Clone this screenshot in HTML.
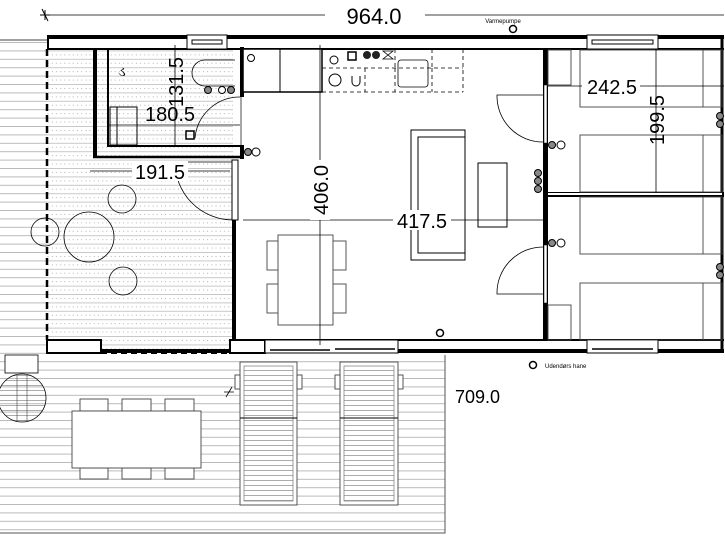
<!DOCTYPE html>
<html><head><meta charset="utf-8"><style>
html,body{margin:0;padding:0;background:#fff;width:725px;height:544px;overflow:hidden}
svg{display:block}
text{font-family:"Liberation Sans",sans-serif;fill:#000}
</style></head><body>
<svg width="725" height="544" viewBox="0 0 725 544" xmlns="http://www.w3.org/2000/svg">
<defs>
<pattern id="deck" width="10" height="8.4" patternUnits="userSpaceOnUse">
<line x1="0" y1="0.5" x2="10" y2="0.5" stroke="#aaa" stroke-width="0.8"/>
</pattern>
<pattern id="terr" width="8.4" height="8.4" patternUnits="userSpaceOnUse">
<rect width="8.4" height="8.4" fill="#fff"/>
<line x1="0" y1="0.5" x2="8.4" y2="0.5" stroke="#bbb" stroke-width="0.8"/>
<circle cx="2" cy="4.5" r="0.5" fill="#999"/><circle cx="6" cy="4.5" r="0.5" fill="#999"/>
</pattern>
<pattern id="slat" width="10" height="5" patternUnits="userSpaceOnUse">
<line x1="0" y1="0.5" x2="10" y2="0.5" stroke="#888" stroke-width="0.7"/>
</pattern>
</defs>

<rect x="0" y="40" width="47" height="315" fill="url(#deck)"/>
<line x1="0" y1="40" x2="47" y2="40" stroke="#000" stroke-width="0.8"/>
<rect x="0" y="355" width="445" height="178" fill="url(#deck)"/>
<polyline points="445,355 445,533 0,533" fill="none" stroke="#555" stroke-width="1"/>
<rect x="47" y="49" width="186" height="304" fill="url(#terr)"/>
<rect x="47" y="49" width="46" height="108" fill="url(#terr)"/>

<line x1="40" y1="15" x2="724" y2="15" stroke="#000" stroke-width="0.8"/>
<path d="M42 9 l6 12 M40 15 h10 M45 10 v10" stroke="#000" stroke-width="1"/>
<rect x="325" y="4" width="100" height="22" fill="#fff"/>
<text x="374" y="24" font-size="22" text-anchor="middle">964.0</text>
<text x="503" y="23" font-size="6" text-anchor="middle">Varmepumpe</text>
<circle cx="513" cy="29" r="3.5" fill="#fff" stroke="#000" stroke-width="1.5"/>

<rect x="47" y="35" width="677" height="4" fill="#000"/>
<line x1="47" y1="49" x2="724" y2="49" stroke="#000" stroke-width="2"/>
<line x1="48" y1="35" x2="48" y2="49" stroke="#000" stroke-width="2"/>
<rect x="47" y="349" width="677" height="4" fill="#000"/>
<line x1="233" y1="340" x2="724" y2="340" stroke="#000" stroke-width="2"/>
<rect x="47" y="340" width="54" height="13" fill="#fff" stroke="#000" stroke-width="2"/>
<rect x="230" y="340" width="35" height="13" fill="#fff" stroke="#000" stroke-width="2"/>
<line x1="722" y1="37" x2="722" y2="353" stroke="#000" stroke-width="3"/>
<path d="M101 353 H230" stroke="#000" stroke-width="2" stroke-dasharray="6,4"/>
<path d="M47 49 V340" stroke="#000" stroke-width="2.5" stroke-dasharray="7,4"/>
<rect x="187" y="35" width="40" height="14" fill="#fff" stroke="#000" stroke-width="1"/>
<rect x="192" y="40" width="30" height="4" fill="none" stroke="#000" stroke-width="1"/>
<rect x="587" y="35" width="71" height="14" fill="#fff" stroke="#000" stroke-width="1"/>
<rect x="592" y="40" width="61" height="4" fill="none" stroke="#000" stroke-width="1"/>
<rect x="265" y="340" width="133" height="13" fill="#fff" stroke="#000" stroke-width="1"/>
<line x1="270" y1="350" x2="330" y2="350" stroke="#000" stroke-width="1.5"/>
<line x1="335" y1="349" x2="395" y2="349" stroke="#000" stroke-width="1.5"/>
<rect x="587" y="340" width="71" height="13" fill="#fff" stroke="#000" stroke-width="1"/>
<line x1="592" y1="349" x2="653" y2="349" stroke="#000" stroke-width="1.5"/>

<rect x="93" y="49" width="4" height="108" fill="#000"/>
<line x1="108" y1="49" x2="108" y2="147" stroke="#000" stroke-width="2"/>
<line x1="93" y1="157" x2="244" y2="157" stroke="#000" stroke-width="2.5"/>
<line x1="108" y1="146" x2="242" y2="146" stroke="#000" stroke-width="2"/>
<rect x="240" y="47" width="4" height="50" fill="#000"/>
<rect x="240" y="145" width="4" height="14" fill="#000"/>
<line x1="241" y1="97" x2="241" y2="145" stroke="#000" stroke-width="0.7"/>
<path d="M240 97 A45 45 0 0 0 195 138" fill="none" stroke="#000" stroke-width="0.8"/>
<rect x="110" y="107" width="27" height="38" fill="none" stroke="#000" stroke-width="1"/>
<rect x="117" y="107" width="20" height="38" fill="none" stroke="#000" stroke-width="1"/>
<path d="M235 60 H205 A13 13 0 0 0 205 86 H235" fill="none" stroke="#000" stroke-width="0.8"/>
<rect x="186" y="131" width="8" height="8" fill="none" stroke="#000" stroke-width="1.5"/>
<text x="118" y="76" font-size="14">ડ</text>
<circle cx="208" cy="90" r="3.5" fill="#888" stroke="#000"/><circle cx="222" cy="90" r="3.5" fill="#fff" stroke="#000"/><circle cx="231" cy="90" r="3.5" fill="#888" stroke="#000"/>

<rect x="232" y="160" width="4" height="180" fill="#000"/>
<rect x="232" y="160" width="6" height="60" fill="#fff" stroke="#000" stroke-width="1"/>
<path d="M232 162 H175 A58 58 0 0 0 233 220" fill="none" stroke="#000" stroke-width="0.8"/>
<circle cx="248" cy="152" r="3.5" fill="#888" stroke="#000"/><circle cx="256" cy="152" r="4" fill="#fff" stroke="#000"/>

<rect x="243" y="49" width="79" height="43" fill="#fff" stroke="#000" stroke-width="1.5"/>
<line x1="280" y1="49" x2="280" y2="92" stroke="#000" stroke-width="1"/>
<circle cx="251" cy="58" r="3.5" fill="none" stroke="#000"/>
<path d="M322 68 H463 M322 92 H463 M365 68 V92 M395 68 V92 M432 68 V92 M463 49 V92 M395 49 V68 M432 49 V68" stroke="#000" stroke-width="0.8" stroke-dasharray="4,3" fill="none"/>
<rect x="398" y="60" width="30" height="27" rx="3" fill="none" stroke="#000" stroke-width="0.8"/>
<circle cx="334" cy="60" r="4" fill="none" stroke="#000"/><circle cx="335" cy="80" r="6" fill="none" stroke="#000"/>
<path d="M352 76 v6 a4 4 0 0 0 8 0 v-6" fill="none" stroke="#000"/>
<rect x="348" y="52" width="8" height="8" fill="none" stroke="#000" stroke-width="1.5"/>
<circle cx="367" cy="55" r="4" fill="#222"/><circle cx="376" cy="55" r="4" fill="#222"/>
<path d="M383 51 h10 l-10 8 h10 z" fill="none" stroke="#000" stroke-width="0.8"/>

<rect x="411" y="130" width="54" height="130" fill="none" stroke="#000" stroke-width="1"/>
<rect x="418" y="137" width="47" height="116" fill="none" stroke="#000" stroke-width="1"/>
<rect x="478" y="163" width="29" height="64" fill="none" stroke="#000" stroke-width="1"/>
<rect x="278" y="235" width="55" height="90" fill="#fff" stroke="#555" stroke-width="1"/>
<rect x="267" y="241" width="11" height="29" fill="none" stroke="#555"/><rect x="267" y="284" width="11" height="29" fill="none" stroke="#555"/>
<rect x="333" y="241" width="13" height="29" fill="none" stroke="#555"/><rect x="333" y="284" width="13" height="29" fill="none" stroke="#555"/>
<circle cx="440" cy="333" r="3.5" fill="#fff" stroke="#000" stroke-width="1.5"/>

<rect x="543" y="49" width="5" height="291" fill="#000"/>
<rect x="544" y="85" width="3" height="58" fill="#fff" stroke="#000" stroke-width="0.5"/>
<rect x="544" y="245" width="3" height="58" fill="#fff" stroke="#000" stroke-width="0.5"/>
<path d="M543 95 H497 A46 46 0 0 0 543 142" fill="none" stroke="#000" stroke-width="0.8"/>
<path d="M543 247 A46 46 0 0 0 497 294 H543" fill="none" stroke="#000" stroke-width="0.8"/>
<rect x="548" y="192" width="176" height="5" fill="#000"/>
<rect x="548" y="193" width="174" height="2" fill="#fff"/>
<circle cx="552" cy="145" r="3.5" fill="#888" stroke="#000"/><circle cx="561" cy="145" r="4" fill="#fff" stroke="#000"/>
<circle cx="552" cy="243" r="3.5" fill="#888" stroke="#000"/><circle cx="561" cy="243" r="4" fill="#fff" stroke="#000"/>
<circle cx="538" cy="173" r="3.5" fill="#888" stroke="#000"/><circle cx="538" cy="181" r="3.5" fill="#888" stroke="#000"/><circle cx="538" cy="189" r="3.5" fill="#888" stroke="#000"/>

<g fill="none" stroke="#444" stroke-width="0.9">
<rect x="580" y="50" width="142" height="57"/><rect x="580" y="135" width="142" height="57"/>
<rect x="580" y="197" width="142" height="57"/><rect x="580" y="283" width="142" height="57"/>
<path d="M703 50 V107 M703 135 V192 M703 197 V254 M703 283 V340"/>
<rect x="548" y="50" width="23" height="35"/><rect x="548" y="305" width="23" height="35"/>
</g>
<circle cx="720" cy="116" r="3.5" fill="#888" stroke="#000"/><circle cx="720" cy="124" r="3.5" fill="#888" stroke="#000"/>
<circle cx="720" cy="267" r="3.5" fill="#888" stroke="#000"/><circle cx="720" cy="275" r="3.5" fill="#888" stroke="#000"/>

<g fill="none" stroke="#000" stroke-width="0.8">
<circle cx="122" cy="199" r="14"/><circle cx="89" cy="237" r="25"/><circle cx="123" cy="281" r="14"/><circle cx="45" cy="232" r="14"/>
</g>

<g stroke="#000" stroke-width="0.8">
<line x1="320" y1="45" x2="320" y2="345"/>
<line x1="243" y1="220" x2="545" y2="220"/>
<line x1="548" y1="86" x2="724" y2="86"/>
<line x1="656" y1="49" x2="656" y2="193"/>
<line x1="175" y1="45" x2="175" y2="147"/>
<line x1="108" y1="125" x2="240" y2="125"/>
<line x1="90" y1="171" x2="230" y2="171"/>
</g>
<g font-size="20">
<rect x="310" y="160" width="20" height="60" fill="#fff"/>
<text transform="translate(328,190) rotate(-90)" text-anchor="middle">406.0</text>
<rect x="393" y="210" width="58" height="20" fill="#fff"/>
<text x="422" y="228" text-anchor="middle">417.5</text>
<rect x="582" y="76" width="58" height="20" fill="#fff"/>
<text x="612" y="94" text-anchor="middle">242.5</text>
<text transform="translate(664,120) rotate(-90)" text-anchor="middle">199.5</text>
<text transform="translate(183,82) rotate(-90)" text-anchor="middle">131.5</text>
<text x="170" y="121" text-anchor="middle">180.5</text>
<rect x="132" y="161" width="56" height="20" fill="#fff"/>
<text x="160" y="179" text-anchor="middle">191.5</text>
<text x="455" y="403" font-size="18">709.0</text>
</g>
<circle cx="533" cy="365" r="3.5" fill="#fff" stroke="#000" stroke-width="1.5"/>
<text x="545" y="368" font-size="6">Udendørs hane</text>

<rect x="5" y="355" width="33" height="18" fill="#fff" stroke="#000" stroke-width="0.8"/>
<circle cx="22" cy="398" r="24" fill="url(#slat)" stroke="#000" stroke-width="0.8"/>
<path d="M17 375 V421 M27 375 V421" stroke="#444" stroke-width="0.6"/>
<g fill="#fff" stroke="#444" stroke-width="0.9">
<rect x="80" y="399" width="28" height="12"/><rect x="122" y="399" width="29" height="12"/><rect x="165" y="399" width="29" height="12"/>
<rect x="80" y="468" width="28" height="11"/><rect x="122" y="468" width="29" height="11"/><rect x="165" y="468" width="29" height="11"/>
<rect x="72" y="411" width="129" height="57"/>
<rect x="240" y="362" width="57" height="143"/><rect x="340" y="362" width="58" height="143"/>
<rect x="235" y="375" width="5" height="14"/><rect x="297" y="375" width="5" height="14"/>
<rect x="335" y="375" width="5" height="14"/><rect x="398" y="375" width="5" height="14"/>
</g>
<rect x="244" y="366" width="49" height="135" fill="url(#slat)" stroke="#777" stroke-width="0.7"/>
<rect x="344" y="366" width="50" height="135" fill="url(#slat)" stroke="#777" stroke-width="0.7"/>
<line x1="240" y1="418" x2="297" y2="418" stroke="#000"/><line x1="340" y1="418" x2="398" y2="418" stroke="#000"/>
<path d="M226 397 l6 -10 M224 392 h10" stroke="#000" stroke-width="0.8"/>
</svg>
</body></html>
